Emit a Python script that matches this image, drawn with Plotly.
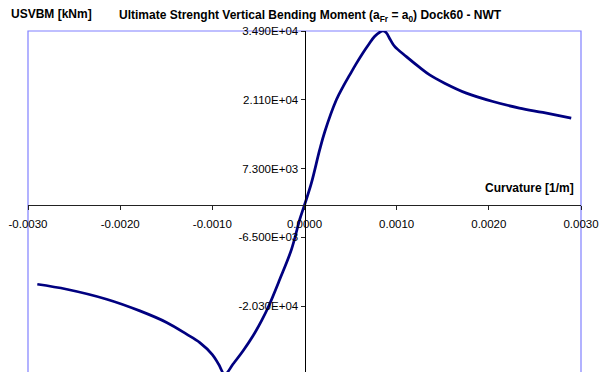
import plotly.graph_objects as go

# Curvature [1/m]
curvature = [-0.002899, -0.002581, -0.002147, -0.001786, -0.001496, -0.001280, -0.001136,
             -0.001000, -0.000930, -0.000865, -0.000775, -0.000666, -0.000558, -0.000467,
             -0.000395, -0.000268, -0.000141, -0.0000515, 0.0, 0.0000753, 0.000165,
             0.000220, 0.000346, 0.000420, 0.000491, 0.000560, 0.000630, 0.000700,
             0.000760, 0.000820, 0.000851, 0.000885, 0.000930, 0.000978, 0.001105,
             0.001249, 0.001358, 0.001520, 0.001756, 0.002044, 0.002331, 0.002586,
             0.002894]
# USVBM [kNm]
usvbm = [-15900, -16900, -18900, -21240, -23560, -25900, -27600,
         -30000, -32000, -34000, -31900, -29240, -26240, -23240,
         -20560, -14900, -8900, -2900, 0, 4440, 11100,
         14700, 21100, 23800, 26100, 28300, 30400, 32300,
         33800, 34700, 34900, 34600, 33200, 31800, 29760,
         27600, 26100, 24440, 22440, 20760, 19440, 18560,
         17440]

x_ticks = [-0.003, -0.002, -0.001, 0.0, 0.001, 0.002, 0.003]
x_tick_text = ["-0.0030", "-0.0020", "-0.0010", "0.0000", "0.0010", "0.0020", "0.0030"]
y_ticks = [34900, 21100, 7300, -6500, -20300, -34100]
y_tick_text = ["3.490E+04", "2.110E+04", "7.300E+03", "-6.500E+03", "-2.030E+04", "-3.410E+04"]

x_range = [-0.003, 0.003]
y_range = [-34100, 34900]

FONT = "Arial, 'Liberation Sans', sans-serif"

fig = go.Figure()
fig.add_trace(go.Scatter(x=curvature, y=usvbm, mode="lines",
                         line=dict(color="#000080", width=2.75, shape="spline", smoothing=1.0),
                         showlegend=False, hoverinfo="skip", cliponaxis=False))

x_axis_pos = (0 - y_range[0]) / (y_range[1] - y_range[0])
y_axis_pos = (0 - x_range[0]) / (x_range[1] - x_range[0])

fig.update_layout(
    width=605, height=380,
    margin=dict(l=28, r=23.5, t=31, b=5),
    paper_bgcolor="white", plot_bgcolor="white",
    font=dict(family=FONT, size=12, color="black"),
    showlegend=False,
    xaxis=dict(range=x_range, tickvals=x_ticks, ticktext=x_tick_text,
               showgrid=False, zeroline=False, showline=True, linecolor="#222222", linewidth=1,
               ticks="outside", ticklen=4, tickcolor="#222222", ticklabelstandoff=4,
               anchor="free", position=x_axis_pos, tickfont=dict(size=11.5)),
    yaxis=dict(range=y_range, tickvals=y_ticks, ticktext=y_tick_text,
               showgrid=False, zeroline=False, showline=True, linecolor="black", linewidth=1,
               ticks="outside", ticklen=4, tickcolor="#222222",
               anchor="free", position=y_axis_pos, tickfont=dict(size=11.5)),
    shapes=[dict(type="rect", xref="paper", yref="paper", x0=0, x1=1, y0=0, y1=1,
                 line=dict(color="#8080FF", width=1.2), layer="below")],
    annotations=[
        dict(text="<b>USVBM [kNm]</b>", xref="paper", yref="paper",
             x=(8.5 - 28) / 553.5, y=(375 - 14) / 344, xanchor="left", yanchor="middle",
             showarrow=False, font=dict(size=12)),
        dict(text="<b>Ultimate Strenght Vertical Bending Moment (a<sub>Fr</sub> = a<sub>0</sub>) Dock60 - NWT</b>",
             xref="paper", yref="paper",
             x=(117.5 - 28) / 553.5, y=(375 - 16) / 344, xanchor="left", yanchor="middle",
             showarrow=False, font=dict(size=12)),
        dict(text="<b>Curvature [1/m]</b>", xref="paper", yref="paper",
             x=(576 - 28) / 553.5, y=(375 - 188) / 344, xanchor="right", yanchor="middle",
             showarrow=False, font=dict(size=12)),
    ],
)

fig.write_html("out.html", config={"displayModeBar": False},
               post_script="document.body.style.margin='0';document.documentElement.style.overflow='hidden';document.body.style.overflow='hidden';")
